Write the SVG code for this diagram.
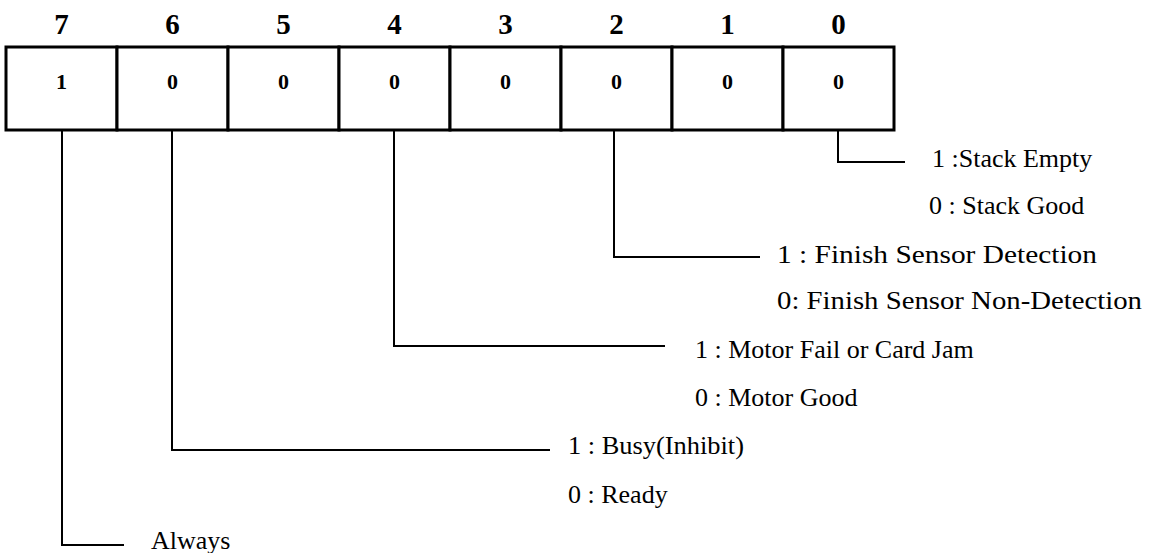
<svg xmlns="http://www.w3.org/2000/svg" width="1160" height="553" viewBox="0 0 1160 553">
  <style>
    .bitno { font-family: "Liberation Serif", "Times New Roman", serif; font-weight: bold; font-size: 29px; text-anchor: middle; fill: #000; }
    .val { font-family: "Liberation Serif", "Times New Roman", serif; font-weight: bold; font-size: 22px; text-anchor: middle; fill: #000; }
    .cell { fill: #fff; stroke: #000; stroke-width: 3; }
    .lbl { font-family: "Liberation Serif", "Times New Roman", serif; font-size: 26px; fill: #000; }
    .lead { fill: none; stroke: #000; stroke-width: 2; }
  </style>
  <rect width="1160" height="553" fill="#fff"/>

  <!-- bit numbers -->
  <g id="bit-numbers">
    <text class="bitno" x="61.5" y="34">7</text>
    <text class="bitno" x="172.5" y="34">6</text>
    <text class="bitno" x="283.5" y="34">5</text>
    <text class="bitno" x="394.5" y="34">4</text>
    <text class="bitno" x="505.5" y="34">3</text>
    <text class="bitno" x="616.5" y="34">2</text>
    <text class="bitno" x="727.5" y="34">1</text>
    <text class="bitno" x="838.5" y="34">0</text>
  </g>

  <!-- register cells -->
  <g id="bit7"><rect class="cell" x="6" y="47" width="111" height="83"/><text class="val" x="61.5" y="89">1</text></g>
  <g id="bit6"><rect class="cell" x="117" y="47" width="111" height="83"/><text class="val" x="172.5" y="89">0</text></g>
  <g id="bit5"><rect class="cell" x="228" y="47" width="111" height="83"/><text class="val" x="283.5" y="89">0</text></g>
  <g id="bit4"><rect class="cell" x="339" y="47" width="111" height="83"/><text class="val" x="394.5" y="89">0</text></g>
  <g id="bit3"><rect class="cell" x="450" y="47" width="111" height="83"/><text class="val" x="505.5" y="89">0</text></g>
  <g id="bit2"><rect class="cell" x="561" y="47" width="111" height="83"/><text class="val" x="616.5" y="89">0</text></g>
  <g id="bit1"><rect class="cell" x="672" y="47" width="111" height="83"/><text class="val" x="727.5" y="89">0</text></g>
  <g id="bit0"><rect class="cell" x="783" y="47" width="111" height="83"/><text class="val" x="838.5" y="89">0</text></g>

  <!-- leader lines -->
  <g id="connectors">
    <polyline class="lead" points="838,131 838,162 905,162"/>
    <polyline class="lead" points="614,131 614,257 760,257"/>
    <polyline class="lead" points="394,131 394,346 665,346"/>
    <polyline class="lead" points="172,131 172,450 550,450"/>
    <polyline class="lead" points="62,131 62,545 124,545"/>
  </g>

  <!-- meanings -->
  <g id="desc-bit0">
    <text class="lbl" x="932" y="167">1 :Stack Empty</text>
    <text class="lbl" x="929" y="214">0 : Stack Good</text>
  </g>
  <g id="desc-bit2">
    <text class="lbl" x="777" y="263" textLength="320" lengthAdjust="spacingAndGlyphs">1 : Finish Sensor Detection</text>
    <text class="lbl" x="777" y="309" textLength="365" lengthAdjust="spacingAndGlyphs">0: Finish Sensor Non-Detection</text>
  </g>
  <g id="desc-bit4">
    <text class="lbl" x="695" y="358">1 : Motor Fail or Card Jam</text>
    <text class="lbl" x="695" y="406">0 : Motor Good</text>
  </g>
  <g id="desc-bit6">
    <text class="lbl" x="568" y="454" textLength="176" lengthAdjust="spacingAndGlyphs">1 : Busy(Inhibit)</text>
    <text class="lbl" x="568" y="503">0 : Ready</text>
  </g>
  <g id="desc-bit7">
    <text class="lbl" x="151" y="549">Always</text>
  </g>
</svg>
